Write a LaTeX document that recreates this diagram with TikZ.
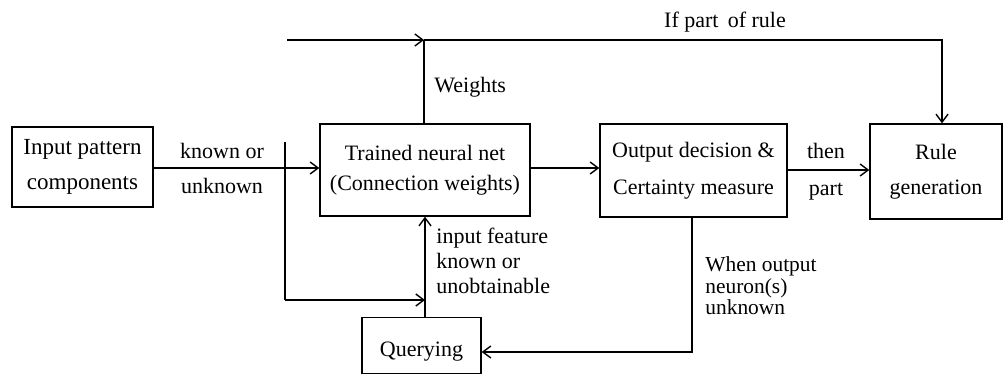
\documentclass[tikz,border=0pt]{standalone}
\usepackage{fontspec}
\setmainfont{Liberation Serif}
\usetikzlibrary{arrows.meta}
\begin{document}
\begin{tikzpicture}[x=0.5pt,y=-0.5pt,
  box/.style={draw,line width=0.7pt,inner sep=0pt,align=center,
    font=\fontsize{11}{17.5}\selectfont},
  lbl/.style={inner sep=0pt,align=center,font=\fontsize{11}{17.5}\selectfont},
  lbll/.style={inner sep=0pt,align=left,anchor=west},
  conn/.style={line width=0.7pt},
  arr/.style={conn,-{Straight Barb[length=4pt,width=6pt]}}]
\useasboundingbox (0,0) rectangle (1004,376);
% boxes
\node[box,minimum width=70.5pt,minimum height=40pt,font=\fontsize{11.5}{17.5}\selectfont] (inp) at (82.5,167) {Input pattern\\components};
\node[box,minimum width=105pt,minimum height=46pt,font=\fontsize{11}{15}\selectfont] (tnn) at (425,170) {Trained neural net\\(Connection weights)};
\node[box,minimum width=93.5pt,minimum height=46.5pt,font=\fontsize{11}{18.5}\selectfont] (out) at (693.5,170.5) {Output decision \&\\Certainty measure};
\node[box,minimum width=66pt,minimum height=47.5pt] (rule) at (936,171.5) {Rule\\generation};
\node[box,minimum width=59.5pt,minimum height=28pt] (qry) at (421.5,345.5) {};
\node[lbl] (qrytxt) at (421.5,352) {Querying};
% labels
\node[lbl] (ku) at (222,168) {known or\\unknown};
\node[lbl,font=\fontsize{11}{18.5}\selectfont] (tp) at (826,171.5) {then\\part};
\node[lbll,font=\fontsize{11}{13}\selectfont] (wt) at (434,87) {Weights};
\node[lbl] (ifp) at (725,22) {If part\, of rule};
\node[lbll,font=\fontsize{11}{12.5}\selectfont] (inf) at (436,261) {input feature\\known or\\unobtainable};
\node[lbll,font=\fontsize{10.7}{9.2}\selectfont] (wo) at (705,286) {When output\\neuron(s)\\unknown};
% coordinates
\coordinate (tl) at (287,40);
\coordinate (jn) at (424,40);
\coordinate (vt) at (285,142);
\coordinate (vb) at (285,300);
\coordinate (qj) at (425,300);
\coordinate (ob) at (692,352);
% connectors
\draw[arr] (inp.east |- 0,168) -- (tnn.west |- 0,168);
\draw[conn] (vt) -- (vb);
\draw[arr] (vb) -- (qj);
\draw[arr] (qry.north -| qj) -- (tnn.south -| qj);
\draw[arr] (tnn.east |- 0,168) -- (out.west |- 0,168);
\draw[arr] (out.east |- 0,170) -- (rule.west |- 0,170);
\draw[arr] (tl) -- (jn);
\draw[conn] (tnn.north -| jn) -- (jn);
\draw[arr] (jn) -| ([xshift=3pt]rule.north);
\draw[arr] (out.south -| ob) -- (ob) -- (qry.east |- ob);
\end{tikzpicture}
\end{document}
